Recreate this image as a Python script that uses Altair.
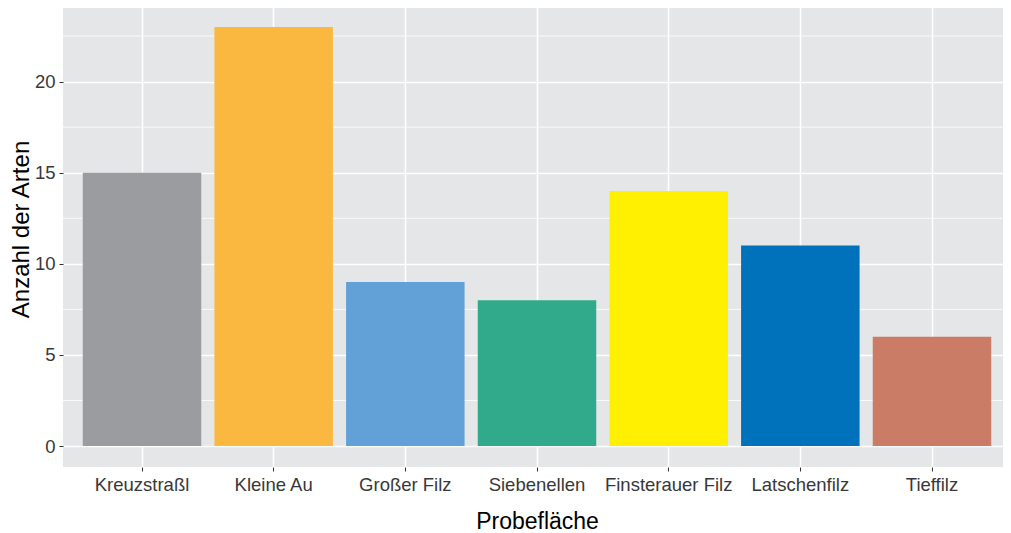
import altair as alt
import pandas as pd

sites = ["Kreuzstraßl", "Kleine Au", "Großer Filz", "Siebenellen",
         "Finsterauer Filz", "Latschenfilz", "Tieffilz"]
counts = [15, 23, 9, 8, 14, 11, 6]
colors = ["#9B9C9F", "#FBB840", "#62A1D7", "#30AA8A", "#FFEF00", "#0071BB", "#CA7C66"]
major_y = [0, 5, 10, 15, 20]
minor_y = [2.5, 7.5, 12.5, 17.5, 22.5]

df = pd.DataFrame({"site": sites, "n": counts})
minor = pd.DataFrame({"v": minor_y})

FONT = "Liberation Sans"
yscale = alt.Scale(domain=[-1.15, 24.15], nice=False, zero=False)

xenc = alt.X(
    "site:N", sort=sites,
    scale=alt.Scale(paddingInner=0.1, paddingOuter=0.15),
    axis=alt.Axis(
        title="Probefläche", labelAngle=0, bandPosition=0.5,
        grid=True, gridColor="white", gridWidth=1.6, domain=False,
        tickColor="#333333", tickSize=4, tickWidth=1, labelPadding=4,
        labelFontSize=18.5, labelColor="#383838",
        titleFontSize=23, titleColor="black", titleFontWeight="normal",
        titleBaseline="alphabetic", titleY=61,
    ),
)
yaxis = alt.Axis(
    title="Anzahl der Arten", values=major_y,
    grid=True, gridColor="white", gridWidth=1.6, domain=False,
    tickColor="#333333", tickSize=4, tickWidth=1, labelPadding=4,
    labelFontSize=18.5, labelColor="#383838",
    titleFontSize=24, titleColor="black", titleFontWeight="normal",
    titleBaseline="alphabetic", titleX=-35, titleY=223,
)

minor_rules = alt.Chart(minor).mark_rule(color="white", strokeWidth=0.8).encode(
    y=alt.Y("v:Q", scale=yscale, axis=yaxis)
)

bars = alt.Chart(df).mark_bar().encode(
    x=xenc,
    y=alt.Y("n:Q", scale=yscale, axis=yaxis),
    y2=alt.datum(0),
    color=alt.Color("site:N", scale=alt.Scale(domain=sites, range=colors), legend=None),
)

chart = alt.layer(minor_rules, bars).properties(
    width=948, height=461,
    autosize=alt.AutoSizeParams(type="none"),
    padding={"left": 55, "top": -2, "right": -8, "bottom": 70},
).configure_view(fill="#E5E6E7", stroke=None).configure_axis(
    labelFont=FONT, titleFont=FONT
)

chart.save("out.html", embed_options={"renderer": "svg", "actions": False})
